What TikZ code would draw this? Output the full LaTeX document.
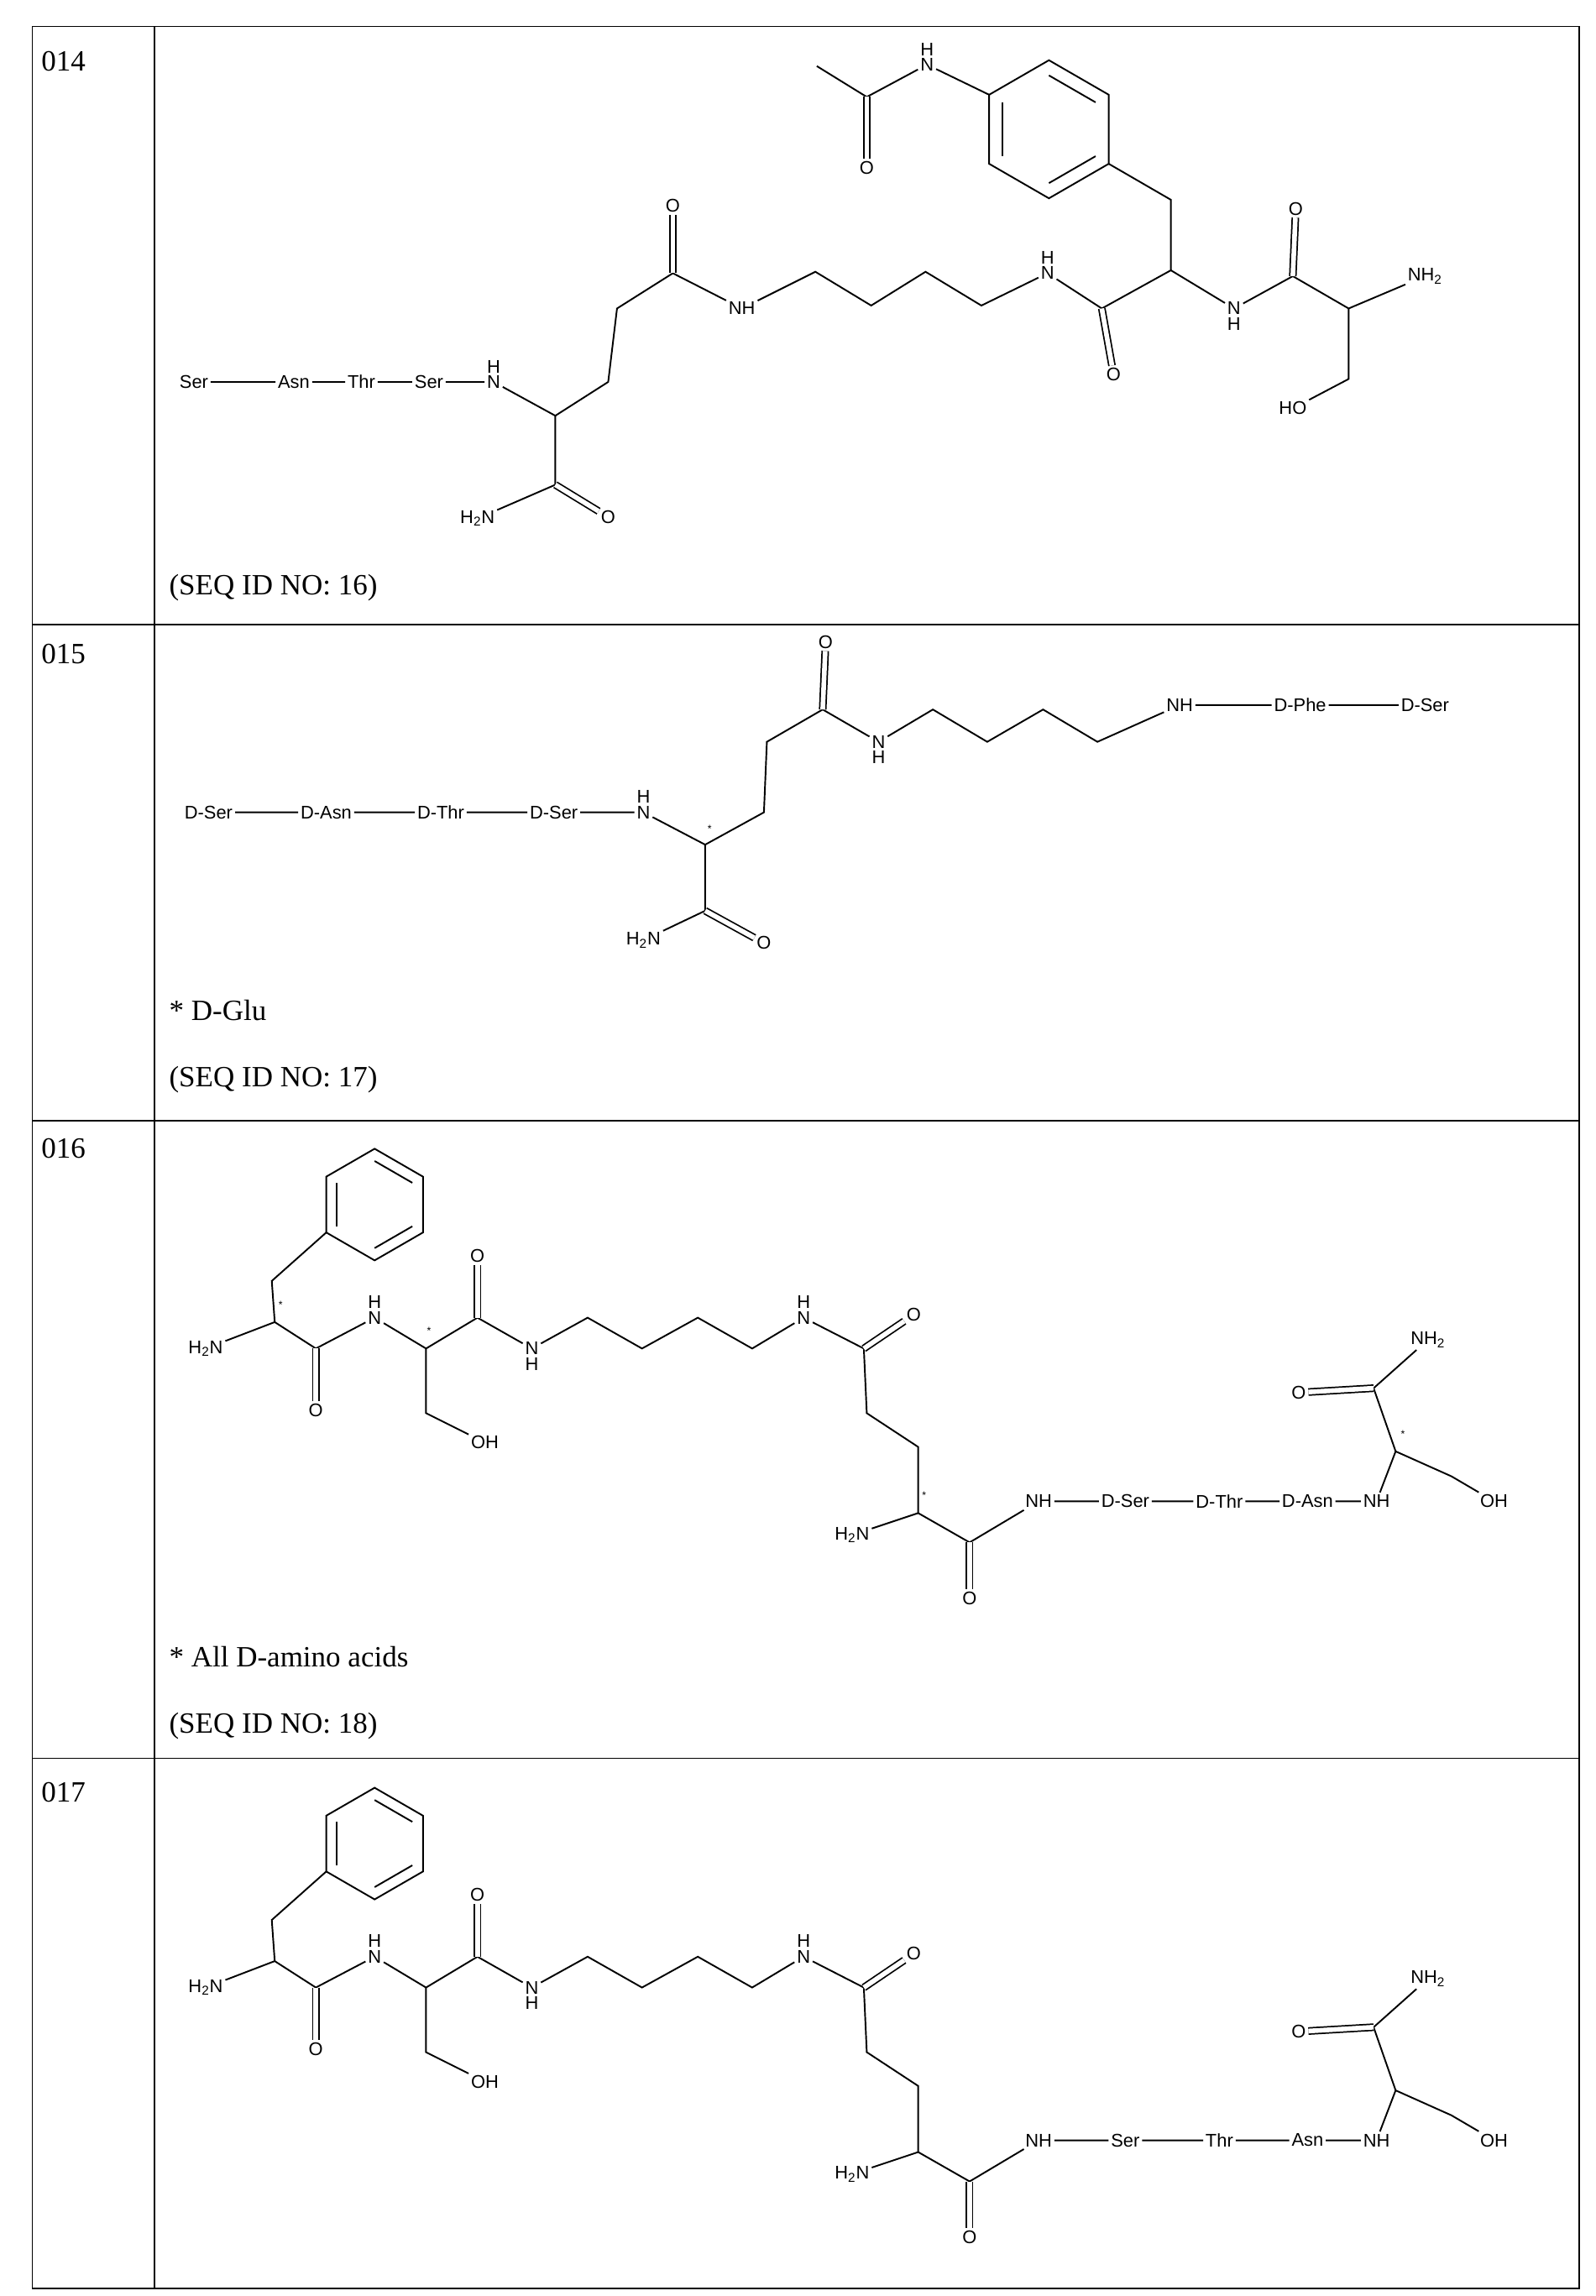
\documentclass[tikz,border=0pt]{standalone}
\usepackage{fontspec}
\setmainfont{Liberation Serif}
\newfontfamily\chem{Liberation Sans}
\usetikzlibrary{calc}
\tikzset{atm/.style={font=\chem\fontsize{12.5}{13}\selectfont, inner sep=1.5pt},
 bd/.style={line width=1.1pt},
 dbl/.style={line width=1pt, double distance=3.2pt},
 lab/.style={font=\fontsize{20}{24}\selectfont, anchor=west, inner sep=0pt},
 mk/.style={font=\chem\scriptsize, inner sep=0pt},
 hl/.style={label={[atm,inner sep=0pt]above:H}},
 hb/.style={label={[atm,inner sep=0pt]below:H}},
 tab/.style={line width=1pt}}
% vertices in screen terms: 1 top, 2 upper-right, 3 lower-right, 4 bottom, 5 lower-left, 6 upper-left
\newcommand\ring[3]{%
 \foreach \i/\a in {1/-90,2/-30,3/30,4/90,5/150,6/-150}{\coordinate (#1\i) at ($(#2)+(\a:#3)$);}
 \draw[bd] (#11)--(#12)--(#13)--(#14)--(#15)--(#16)--cycle;
 \foreach \p/\q in {1/2,3/4,5/6}{\draw[bd] ($(#2)!.78!(#1\p)$)--($(#2)!.78!(#1\q)$);}}
\newcommand\molrow[5]{%
 \coordinate (#1rc) at (255,820); \ring{#1r}{#1rc}{38}
 \coordinate (#1cb) at (185,872); \coordinate (#1a1) at (187,900);
 \node[mk] at (191,888) {#2};
 \node[atm] (#1h2n) at (140,918) {H\textsubscript{2}N};
 \coordinate (#1c1) at (215,918); \node[atm] (#1o1) at (215,960) {O};
 \node[atm,hl] (#1n1) at (255,897) {N};
 \coordinate (#1a2) at (290,918); \node[mk] at (292,906) {#2};
 \coordinate (#1cs) at (290,962); \node[atm] (#1oh) at (330,982) {OH};
 \coordinate (#1c2) at (325,897); \node[atm] (#1o2) at (325,855) {O};
 \node[atm,hb] (#1n2) at (362,918) {N};
 \coordinate (#1k1) at (400,897); \coordinate (#1k2) at (437,918);
 \coordinate (#1k3) at (475,897); \coordinate (#1k4) at (512,918);
 \node[atm,hl] (#1n3) at (547,897) {N};
 \coordinate (#1c3) at (588,918); \node[atm] (#1o3) at (622,895) {O};
 \coordinate (#1g1) at (590,962); \coordinate (#1g2) at (625,985);
 \coordinate (#1a3) at (625,1030); \node[mk] at (629,1018) {#2};
 \node[atm] (#1h2nb) at (580,1045) {H\textsubscript{2}N};
 \coordinate (#1c4) at (660,1050); \node[atm] (#1o4) at (660,1088) {O};
 \node[atm] (#1nh) at (707,1022) {NH};
 \node[atm] (#1p1) at (766,1022) {#3};
 \node[atm] (#1p2) at (830,1022) {#4};
 \node[atm] (#1p3) at (890,1022) {#5};
 \node[atm] (#1nh2) at (937,1022) {NH};
 \coordinate (#1a4) at (950,988); \node[mk] at (955,976) {#2};
 \coordinate (#1cs2) at (988,1005); \node[atm] (#1oh2) at (1017,1022) {OH};
 \coordinate (#1c5) at (935,945); \node[atm] (#1nh3) at (972,912) {NH\textsubscript{2}};
 \node[atm] (#1o5) at (884,948) {O};
 \draw[bd] (#1r5)--(#1cb)--(#1a1)--(#1h2n);
 \draw[bd] (#1a1)--(#1c1)--(#1n1)--(#1a2)--(#1c2)--(#1n2)--(#1k1)--(#1k2)--(#1k3)--(#1k4)--(#1n3)--(#1c3)--(#1g1)--(#1g2)--(#1a3)--(#1c4)--(#1nh)--(#1p1)--(#1p2)--(#1p3)--(#1nh2)--(#1a4)--(#1cs2)--(#1oh2);
 \draw[bd] (#1a2)--(#1cs)--(#1oh); \draw[bd] (#1a3)--(#1h2nb);
 \draw[bd] (#1a4)--(#1c5)--(#1nh3);
 \draw[dbl] (#1c1)--(#1o1); \draw[dbl] (#1c2)--(#1o2); \draw[dbl] (#1c3)--(#1o3);
 \draw[dbl] (#1c4)--(#1o4); \draw[dbl] (#1c5)--(#1o5);}
\begin{document}
\begin{tikzpicture}[x=1pt,y=-1pt]
\useasboundingbox[fill=white] (0,0) rectangle (1086,1563);
% table
\draw[tab] (22,18) rectangle (1075,1558);
\draw[tab] (105,18)--(105,1558);
\foreach \yy in {425,763,1197}{\draw[tab] (22,\yy)--(1075,\yy);}
\node[lab] (r14) at (28,42) {014};
\node[lab] (r15) at (28,445) {015};
\node[lab] (r16) at (28,782) {016};
\node[lab] (r17) at (28,1220) {017};
% ---- 014
\node[atm] (s1) at (132,260) {Ser};
\node[atm] (a1) at (200,260) {Asn};
\node[atm] (t1) at (246,260) {Thr};
\node[atm] (s2) at (292,260) {Ser};
\node[atm,hl] (n1) at (336,260) {N};
\coordinate (ca) at (378,283); \coordinate (cc) at (378,330);
\node[atm] (o1) at (414,352) {O};
\node[atm] (h2n) at (325,353) {H\textsubscript{2}N};
\coordinate (cb) at (414,260); \coordinate (cg) at (420,210); \coordinate (cd) at (458,186);
\node[atm] (o2) at (458,140) {O};
\node[atm] (nh) at (505,210) {NH};
\coordinate (k1) at (555,185); \coordinate (k2) at (593,208); \coordinate (k3) at (630,185); \coordinate (k4) at (668,208);
\node[atm,hl] (n2) at (713,186) {N};
\coordinate (cf) at (750,210); \node[atm] (o3) at (758,255) {O};
\coordinate (cA) at (797,184); \coordinate (cB) at (797,136);
\coordinate (rc) at (714,88); \ring{r}{rc}{47}
\node[atm,hl] (n3) at (631,44) {N};
\coordinate (cac) at (590,66); \coordinate (cme) at (556,45);
\node[atm] (o4) at (590,114) {O};
\node[atm,hb] (n4) at (840,210) {N};
\coordinate (cC) at (880,188); \node[atm] (o5) at (882,142) {O};
\coordinate (cD) at (918,210);
\node[atm] (nh2) at (970,188) {NH\textsubscript{2}};
\coordinate (cE) at (918,258); \node[atm] (ho) at (880,278) {HO};
\draw[bd] (s1)--(a1)--(t1)--(s2)--(n1)--(ca)--(cc)--(h2n);
\draw[dbl] (cc)--(o1);
\draw[bd] (ca)--(cb)--(cg)--(cd)--(nh)--(k1)--(k2)--(k3)--(k4)--(n2)--(cf)--(cA)--(cB)--(r3);
\draw[dbl] (cd)--(o2); \draw[dbl] (cf)--(o3);
\draw[bd] (r6)--(n3)--(cac)--(cme); \draw[dbl] (cac)--(o4);
\draw[bd] (cA)--(n4)--(cC)--(cD)--(nh2); \draw[dbl] (cC)--(o5);
\draw[bd] (cD)--(cE)--(ho);
\node[lab] (q14) at (115,400) {(SEQ ID NO: 16)};
% ---- 015
\node[atm] (d1) at (142,553) {D-Ser};
\node[atm] (d2) at (222,553) {D-Asn};
\node[atm] (d3) at (300,553) {D-Thr};
\node[atm] (d4) at (377,553) {D-Ser};
\node[atm,hl] (m1) at (438,553) {N};
\coordinate (ea) at (480,575); \node[mk] at (483,564) {*};
\coordinate (ec) at (480,620); \node[atm] (eo1) at (520,642) {O};
\node[atm] (eh2n) at (438,640) {H\textsubscript{2}N};
\coordinate (eb) at (520,553); \coordinate (eg) at (522,505); \coordinate (ed) at (560,483);
\node[atm] (eo2) at (562,437) {O};
\node[atm,hb] (m2) at (598,505) {N};
\coordinate (e1) at (635,483); \coordinate (e2) at (672,505); \coordinate (e3) at (710,483); \coordinate (e4) at (747,505);
\node[atm] (enh) at (803,480) {NH};
\node[atm] (ef) at (885,480) {D-Phe};
\node[atm] (es) at (970,480) {D-Ser};
\draw[bd] (d1)--(d2)--(d3)--(d4)--(m1)--(ea)--(ec)--(eh2n);
\draw[dbl] (ec)--(eo1);
\draw[bd] (ea)--(eb)--(eg)--(ed)--(m2)--(e1)--(e2)--(e3)--(e4)--(enh)--(ef)--(es);
\draw[dbl] (ed)--(eo2);
\node[lab] (g15) at (115,688) {* D-Glu};
\node[lab] (q15) at (115,735) {(SEQ ID NO: 17)};
% ---- 016
\molrow{A}{*}{D-Ser}{D-Thr}{D-Asn}
\node[lab] (g16) at (115,1128) {* All D-amino acids};
\node[lab] (q16) at (115,1175) {(SEQ ID NO: 18)};
% ---- 017
\begin{scope}[yshift=-435pt]
\molrow{B}{}{Ser}{Thr}{Asn}
\end{scope}
\end{tikzpicture}
\end{document}
